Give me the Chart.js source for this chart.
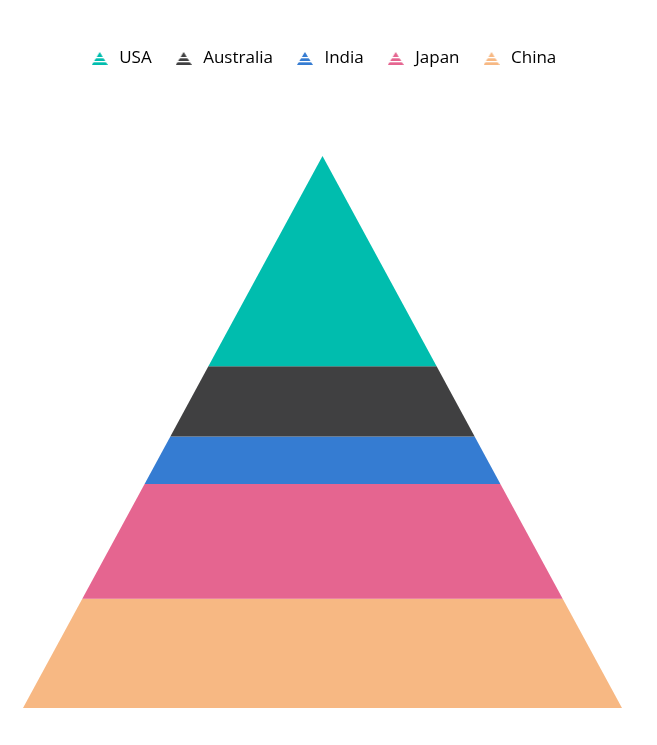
<!DOCTYPE html>
<html>
<head>
<meta charset="utf-8">
<style>
  html, body { margin: 0; padding: 0; background: #ffffff; }
  #wrap { width: 657px; height: 745px; }
</style>
<script src="https://cdn.jsdelivr.net/npm/chart.js@4/dist/chart.umd.min.js"></script>
</head>
<body>
<div id="wrap"><canvas id="c" width="657" height="745"></canvas></div>
<script>
// Data (top of pyramid first)
const categories = ['USA', 'Australia', 'India', 'Japan', 'China'];
const values = [38.1, 12.7, 8.6, 20.8, 19.8];
const colors = ['#00bdae', '#404041', '#357cd2', '#e56590', '#f7b883'];

const total = values.reduce((a, b) => a + b, 0);

function legendIcon(color) {
  const w = 16, h = 13;
  const c = document.createElement('canvas');
  c.width = w; c.height = h;
  const g = c.getContext('2d');
  g.fillStyle = color;
  g.beginPath();
  g.moveTo(w / 2, 0);
  g.lineTo(w, h);
  g.lineTo(0, h);
  g.closePath();
  g.fill();
  g.fillStyle = '#ffffff';
  g.fillRect(0, 5, w, 1.3);
  g.fillRect(0, 9, w, 1.3);
  return c;
}

// Build each pyramid layer as a closed shape from cumulative values
let cum = 0;
const datasets = categories.map((name, i) => {
  const d0 = cum;
  const d1 = cum + values[i];
  cum = d1;
  const a = d0 / total, b = d1 / total;
  return {
    label: name,
    data: [
      { x: -a, y: d0 }, { x: a, y: d0 },
      { x: b, y: d1 }, { x: -b, y: d1 },
      { x: -a, y: d0 }
    ],
    backgroundColor: colors[i],
    borderColor: colors[i],
    borderWidth: 0,
    pointRadius: 0,
    pointHoverRadius: 0,
    tension: 0,
    fill: 'shape',
    pointStyle: legendIcon(colors[i])
  };
});

const legendSpacer = {
  id: 'legendSpacer',
  beforeLayout(chart) {
    const lg = chart.legend;
    if (lg && !lg._spaced) {
      const orig = lg.fit;
      lg.fit = function () { orig.call(this); this.height += 79; };
      lg._spaced = true;
    }
  }
};

new Chart(document.getElementById('c'), {
  type: 'line',
  data: { datasets },
  options: {
    responsive: false,
    animation: false,
    events: [],
    layout: { padding: { top: 29, left: 23, right: 35, bottom: 37 } },
    scales: {
      x: { type: 'linear', min: -1, max: 1, display: false },
      y: { type: 'linear', min: 0, max: total, reverse: true, display: false }
    },
    plugins: {
      tooltip: { enabled: false },
      legend: {
        position: 'top',
        labels: {
          usePointStyle: true,
          pointStyleWidth: 22,
          padding: 21,
          color: '#000000',
          font: { family: 'Open Sans', size: 17 }
        }
      }
    }
  },
  plugins: [legendSpacer]
});
</script>
</body>
</html>
